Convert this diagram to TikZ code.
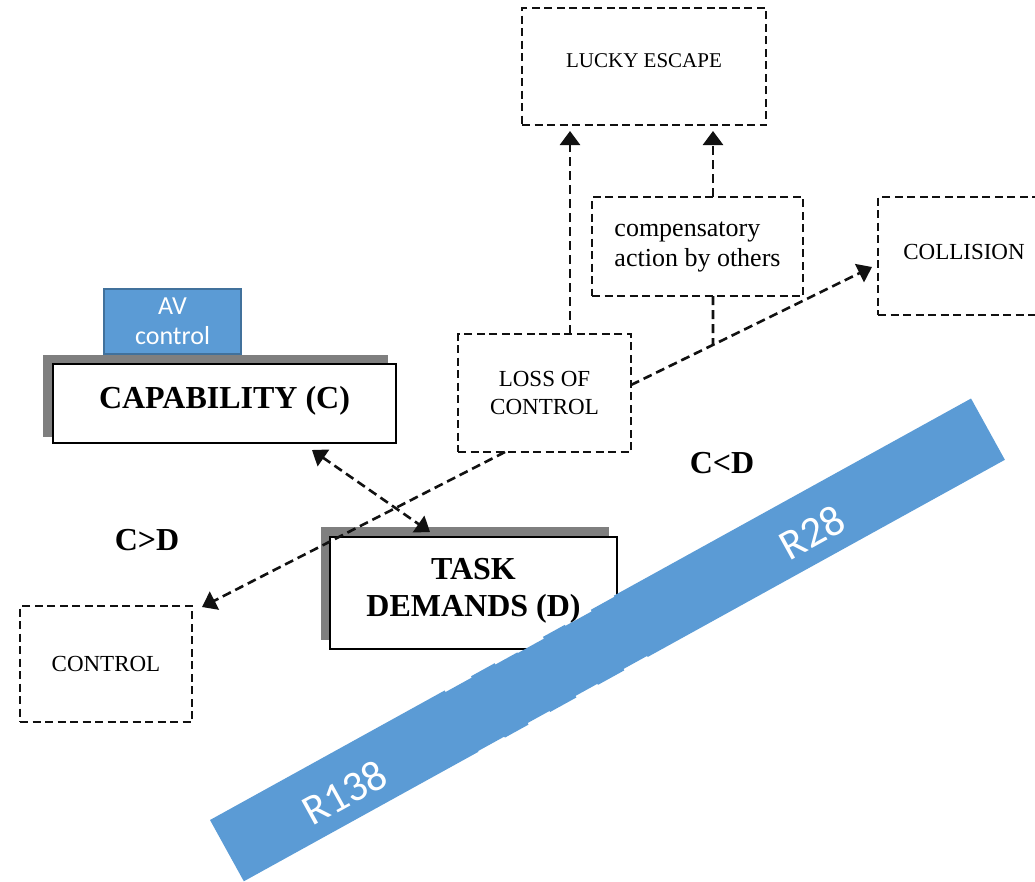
\documentclass[tikz,border=0pt]{standalone}
\usepackage{fontspec}
\setmainfont{Liberation Serif}
\newfontfamily\calibri{Carlito}
\usetikzlibrary{arrows.meta,calc}
\definecolor{bandblue}{HTML}{5B9BD5}
\definecolor{bandedge}{HTML}{41719C}
\definecolor{shadowgray}{HTML}{7F7F7F}
\definecolor{ink}{HTML}{111111}

\begin{document}
\begin{tikzpicture}[x=1pt,y=-1pt,
  dashbox/.style={draw=ink, line width=2.2pt, dash pattern=on 8pt off 4.5pt,
    inner sep=0pt, outer sep=0pt, align=center,
    font=\fontsize{23}{28}\selectfont},
  solidbox/.style={draw=black, fill=white, line width=1.6pt, inner sep=0pt,
    outer sep=0pt, align=center, font=\fontsize{32}{37}\selectfont\bfseries},
  flow/.style={draw=ink, line width=2.6pt, dash pattern=on 9pt off 5pt,
    -{Triangle[length=14pt,width=20pt]}},
  link/.style={draw=ink, line width=2.6pt, dash pattern=on 9pt off 5pt},
  both/.style={flow, {Triangle[length=14pt,width=20pt]}-{Triangle[length=14pt,width=20pt]}},
  ratio/.style={font=\fontsize{32}{36}\selectfont\bfseries, inner sep=0pt},
  roadtag/.style={text=white, font=\calibri\fontsize{43}{50}\selectfont,
    inner sep=0pt, rotate=28.9}
]
\useasboundingbox (0,0) rectangle (1035,881);
\clip (0,0) rectangle (1035,881);

% outcome boxes
\node[dashbox, minimum width=244pt, minimum height=117pt, text depth=11pt,
  font=\fontsize{21}{25}\selectfont] (lucky) at (644,66.5) {LUCKY ESCAPE};
\node[dashbox, minimum width=211pt, minimum height=99pt, align=left,
  font=\fontsize{26}{30}\selectfont] (comp) at (697.5,246.5)
  {compensatory\\action by others};
\node[dashbox, minimum width=172pt, minimum height=118pt, text depth=8pt]
  (coll) at (964,256) {COLLISION};
\node[dashbox, minimum width=173pt, minimum height=118pt] (loss) at (544.5,393)
  {LOSS OF\\CONTROL};
\node[dashbox, minimum width=172pt, minimum height=116pt] (ctrl) at (106,664)
  {CONTROL};

% capability and task demand boxes with their shadows
\fill[shadowgray] (43,355) rectangle (388,437);
\node[solidbox, minimum width=343pt, minimum height=79pt, text depth=12pt]
  (cap) at (224.5,403.5) {CAPABILITY (C)};
\fill[shadowgray] (321,527) rectangle (609,640);
\node[solidbox, minimum width=287pt, minimum height=112pt, text depth=12pt]
  (task) at (473.5,593) {TASK\\DEMANDS (D)};

\node[draw=bandedge, fill=bandblue, line width=1.5pt, text=white,
  minimum width=137pt, minimum height=65pt, inner sep=0pt, align=center,
  font=\calibri\fontsize{26}{30}\selectfont] (av) at (172.5,321.5) {AV\\control};

% ratio labels
\node[ratio] (cgd) at (147,540) {C>D};
\node[ratio] (cld) at (722,463) {C<D};

% connectors
\coordinate (lossout) at ([yshift=8pt]loss.east);
\coordinate (collin) at ([xshift=-6pt,yshift=-11pt]coll.west);
\coordinate (cs) at ([xshift=15.5pt]comp.south);
\coordinate (cn) at ([xshift=15.5pt]comp.north);
\draw[flow] ([xshift=25.5pt]loss.north) -- ([xshift=25.5pt,yshift=-6pt]loss.north |- lucky.south);
\draw[flow] (cn) -- ([yshift=-6pt]cn |- lucky.south);
\draw[flow] (lossout) -- (collin);
\draw[link] (cs) -- (intersection of lossout--collin and cs--cn);
\draw[flow] ([xshift=-39.5pt]loss.south) -- ([xshift=10pt,yshift=-1pt]ctrl.north east);
\draw[both] ([xshift=87.5pt,yshift=-7pt]cap.south) -- ([xshift=-43.5pt,yshift=5pt]task.north);

% road band, two pieces meeting with a slightly ragged joint
\begin{scope}[shift={(210,820)}, rotate=28.9]
  \fill[bandblue] (0,0) -- (268,0) -- (268,1.8) -- (298,1.8) -- (298,0.3)
    -- (325,0.3) -- (325,1.8) -- (350,1.8) -- (350,2.6) -- (380,2.6) -- (380,0.6)
    -- (405,0.6) -- (405,1.8) -- (435,1.8) -- (435,0) -- (462,0) -- (462,-1.2)
    -- (870,-1.2) -- (870,68.8)
    -- (462,68.8) -- (462,67.6) -- (435,67.6) -- (435,69.2) -- (405,69.2) -- (405,68)
    -- (380,68) -- (380,69.8) -- (350,69.8) -- (350,68.6) -- (325,68.6) -- (325,70.4)
    -- (298,70.4) -- (298,69.2) -- (268,69.2) -- (268,70) -- (0,70) -- cycle;
  \node[roadtag] (r138) at (131,41) {R138};
  \node[roadtag] (r28) at (666,39) {R28};
\end{scope}
\end{tikzpicture}
\end{document}
